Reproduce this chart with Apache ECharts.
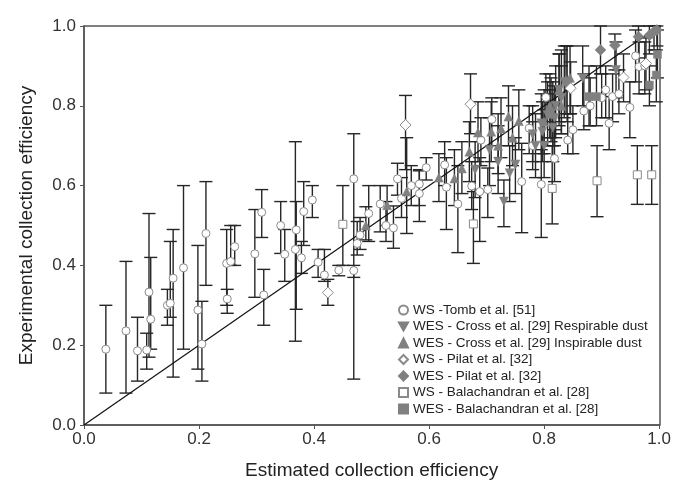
<!DOCTYPE html>
<html><head><meta charset="utf-8">
<script src="https://cdn.jsdelivr.net/npm/echarts@6/dist/echarts.min.js"></script>
<style>html,body{margin:0;padding:0;background:#fff}#c{width:674px;height:489px}</style>
</head><body><div id="c"></div>
<script>
// [estimated, experimental, errLow, errHigh]
const tombWS = [
[0.038,0.19,0.08,0.30],[0.073,0.236,0.08,0.41],[0.093,0.186,0.11,0.27],[0.109,0.188,0.14,0.23],
[0.113,0.333,0.17,0.53],[0.116,0.265,0.19,0.42],[0.145,0.30,0.25,0.34],[0.155,0.368,0.12,0.49],
[0.150,0.305,0.27,0.46],[0.173,0.394,0.19,0.60],[0.198,0.288,0.14,0.45],[0.205,0.203,0.11,0.31],
[0.212,0.48,0.35,0.61],[0.248,0.405,0.30,0.49],[0.249,0.316,0.28,0.34],[0.255,0.41,0.40,0.50],
[0.262,0.447,0.40,0.50],[0.297,0.429,0.32,0.54],[0.309,0.533,0.47,0.59],[0.3125,0.326,0.25,0.39],
[0.342,0.50,0.43,0.56],[0.349,0.428,0.36,0.49],[0.369,0.489,0.29,0.56],[0.3675,0.44,0.21,0.71],
[0.378,0.419,0.38,0.46],[0.382,0.535,0.45,0.61],[0.397,0.564,0.52,0.60],[0.407,0.408,0.37,0.44],
[0.418,0.376,0.36,0.44],[0.443,0.388,0.374,0.40],[0.469,0.617,0.115,0.73],[0.469,0.387,0.37,0.40],
[0.475,0.455,0.426,0.51],[0.48,0.476,0.44,0.52],[0.495,0.53,0.46,0.60],[0.515,0.554,0.484,0.60],
[0.525,0.50,0.46,0.56],[0.538,0.494,0.443,0.549],[0.545,0.617,0.576,0.656],[0.552,0.568,0.52,0.62],
[0.569,0.60,0.55,0.65],[0.583,0.604,0.55,0.637],[0.583,0.58,0.51,0.64],[0.595,0.645,0.614,0.67],
[0.627,0.652,0.60,0.71],[0.63,0.596,0.49,0.67],[0.65,0.554,0.432,0.65],[0.674,0.599,0.54,0.66],
[0.688,0.585,0.46,0.67],[0.69,0.714,0.65,0.77],[0.702,0.59,0.52,0.644],[0.709,0.766,0.70,0.82],
[0.761,0.61,0.482,0.706],[0.774,0.744,0.68,0.80],[0.795,0.603,0.47,0.69],[0.803,0.821,0.76,0.88],
[0.818,0.668,0.61,0.74],[0.841,0.714,0.68,0.78],[0.869,0.787,0.74,0.88],[0.907,0.84,0.77,0.90],
[0.913,0.756,0.69,0.823],[0.919,0.823,0.76,0.88],[0.949,0.796,0.72,0.86],[0.959,0.925,0.86,0.99],
[0.965,0.898,0.83,0.96],[0.975,0.90,0.83,0.96],
[0.81,0.78,0.72,0.84],[0.78,0.70,0.64,0.76],[0.85,0.74,0.68,0.80],[0.88,0.80,0.75,0.87],
[0.90,0.82,0.77,0.88],[0.93,0.83,0.78,0.89]
];
const crossResp = [
[0.68,0.64,0.57,0.71],[0.73,0.56,0.497,0.614],[0.74,0.631,0.56,0.70],[0.75,0.653,0.58,0.72],
[0.78,0.729,0.66,0.80],[0.795,0.756,0.68,0.83],[0.797,0.735,0.66,0.81],[0.806,0.777,0.70,0.86],
[0.812,0.781,0.71,0.87],[0.818,0.77,0.70,0.85],[0.826,0.84,0.75,0.93],[0.835,0.86,0.77,0.95],
[0.867,0.869,0.80,0.95],[0.925,0.89,0.82,0.96],[0.80,0.70,0.62,0.79],
[0.785,0.70,0.62,0.78],[0.815,0.745,0.66,0.83],[0.82,0.80,0.72,0.90],[0.83,0.82,0.73,0.94],
[0.84,0.85,0.76,0.95],[0.705,0.69,0.60,0.77],[0.72,0.66,0.58,0.75]
];
const crossInsp = [
[0.49,0.50,0.464,0.547],[0.527,0.551,0.50,0.60],[0.561,0.585,0.48,0.72],[0.617,0.62,0.56,0.68],
[0.644,0.618,0.55,0.69],[0.657,0.643,0.58,0.71],[0.67,0.685,0.61,0.76],[0.685,0.733,0.66,0.81],
[0.708,0.735,0.66,0.81],[0.725,0.743,0.67,0.82],[0.738,0.773,0.70,0.85],[0.756,0.762,0.69,0.84],
[0.81,0.80,0.72,0.88],[0.826,0.84,0.76,0.93],[0.838,0.865,0.78,0.95],[0.845,0.87,0.78,0.95],
[0.80,0.76,0.68,0.84],[0.815,0.78,0.70,0.86],[0.83,0.80,0.73,0.90],[0.72,0.70,0.63,0.78],[0.745,0.72,0.65,0.80]
];
const pilatWS = [
[0.424,0.332,0.30,0.365],[0.559,0.752,0.64,0.826],[0.672,0.804,0.73,0.88],[0.846,0.844,0.78,0.91],
[0.938,0.871,0.81,0.93],[0.977,0.906,0.84,0.97]
];
const pilatWES = [
[0.898,0.94,0.88,1.0],[0.923,0.952,0.89,0.98],[0.964,0.973,0.92,1.0],[0.983,0.977,0.93,1.0],
[0.991,0.986,0.94,1.0],[0.996,0.99,0.95,1.0]
];
const balaWS = [
[0.45,0.503,0.40,0.60],[0.677,0.504,0.405,0.585],[0.814,0.593,0.504,0.70],[0.892,0.612,0.522,0.70],
[0.962,0.627,0.553,0.70],[0.987,0.627,0.553,0.70]
];
const balaWES = [
[0.878,0.823,0.75,0.90],[0.891,0.823,0.75,0.90],[0.983,0.852,0.80,0.90],[0.995,0.877,0.81,0.94],
[0.997,0.929,0.87,0.99]
];
const names = ['WS -Tomb et al. [51]','WES - Cross et al. [29] Respirable dust','WES - Cross et al. [29] Inspirable dust',
'WS - Pilat et al. [32]','WES - Pilat et al. [32]','WS - Balachandran et al. [28]','WES - Balachandran et al. [28]'];

const gray = '#808080';
const allPts = [].concat(tombWS, crossResp, crossInsp, pilatWS, pilatWES, balaWS, balaWES);
const chart = echarts.init(document.getElementById('c'), null, {renderer:'canvas'});
function sc(name, data, symbol, size, filled, rot) {
  return {type:'scatter', name, data: data.map(d=>[d[0],d[1]]), symbol, symbolSize:size, symbolRotate:rot||0, z:5,
    itemStyle: filled ? {color:gray, borderColor:gray, borderWidth:0.5, opacity:1} : {color:'#fff', borderColor:'#8a8a8a', borderWidth:1, opacity:1}};
}
const tf = {fontFamily:'Liberation Sans, Arial, sans-serif'};
const legendData = [
  {name:names[0], icon:'circle'},
  {name:names[1], icon:'path://M0,0 L10,0 L5,8.66 Z'},
  {name:names[2], icon:'triangle'},
  {name:names[3], icon:'diamond'},
  {name:names[4], icon:'diamond'},
  {name:names[5], icon:'rect'},
  {name:names[6], icon:'rect'}
];
chart.setOption({
  animation:false,
  grid:{left:84, right:14, top:26, bottom:64},
  xAxis:{type:'value', min:0, max:1, interval:0.2, name:'Estimated collection efficiency', nameLocation:'middle', nameGap:36,
    nameTextStyle:Object.assign({fontSize:19, color:'#222'}, tf),
    axisLine:{onZero:false, lineStyle:{color:'#555', width:1.5}}, axisTick:{length:4, lineStyle:{color:'#555'}},
    axisLabel:Object.assign({fontSize:17, color:'#333', margin:6, formatter:v=>v.toFixed(1)}, tf), splitLine:{show:false}},
  yAxis:{type:'value', min:0, max:1, interval:0.2, name:'Experimental collection efficiency', nameLocation:'middle', nameGap:48,
    nameTextStyle:Object.assign({fontSize:19, color:'#222'}, tf),
    axisLine:{onZero:false, lineStyle:{color:'#555', width:1.5}}, axisTick:{length:4, lineStyle:{color:'#555'}},
    axisLabel:Object.assign({fontSize:17, color:'#333', margin:8, formatter:v=>v.toFixed(1)}, tf), splitLine:{show:false}},
  legend:{orient:'vertical', left:393, top:298, itemWidth:9, itemHeight:9, itemGap:2.5, data:legendData,
    textStyle:Object.assign({fontSize:13.5, color:'#222', lineHeight:14}, tf)},
  series:[
    {type:'line', data:[[0,0],[1,1]], symbol:'none', lineStyle:{color:'#111', width:1.2}, z:4, silent:true},
    {type:'custom', data:allPts, z:3, silent:true,
      renderItem:function(params, api){
        const x=api.value(0), lo=api.value(2), hi=api.value(3);
        const a=api.coord([x,lo]), b=api.coord([x,hi]); const w=6.5;
        const st={stroke:'#262626', lineWidth:1.4};
        return {type:'group', children:[
          {type:'line', shape:{x1:a[0],y1:a[1],x2:b[0],y2:b[1]}, style:st},
          {type:'line', shape:{x1:a[0]-w,y1:a[1],x2:a[0]+w,y2:a[1]}, style:st},
          {type:'line', shape:{x1:b[0]-w,y1:b[1],x2:b[0]+w,y2:b[1]}, style:st}
        ]};
      }},
    sc(names[0], tombWS, 'circle', 8, false),
    sc(names[1], crossResp, 'triangle', 9, true, 180),
    sc(names[2], crossInsp, 'triangle', 9, true),
    sc(names[3], pilatWS, 'diamond', 11, false),
    sc(names[4], pilatWES, 'diamond', 11, true),
    sc(names[5], balaWS, 'rect', 8, false),
    sc(names[6], balaWES, 'rect', 8, true)
  ],
  graphic:[{type:'rect', shape:{x:84,y:26,width:576,height:399}, style:{fill:'none', stroke:'#555', lineWidth:1.5}, z:1, silent:true}]
});
</script></body></html>
